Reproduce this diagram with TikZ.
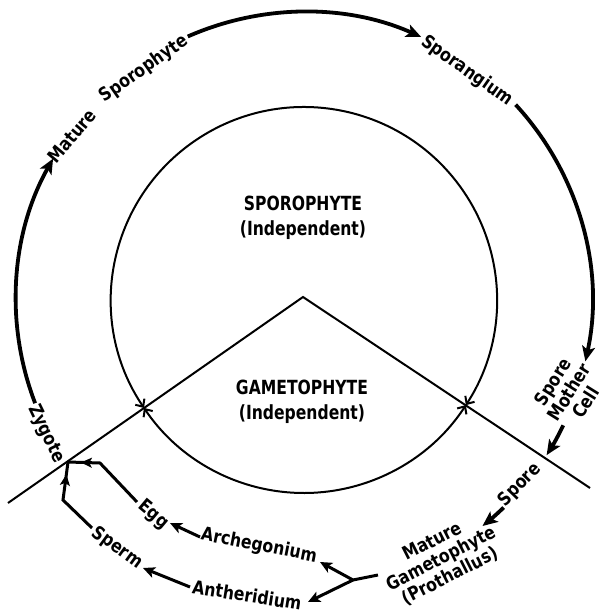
\documentclass[tikz,border=0pt]{standalone}
\usepackage{fontspec}
\newfontfamily\labfont{DejaVu Sans}[FakeStretch=0.85]
\newfontfamily\titfont{DejaVu Sans}[FakeStretch=0.8]
\usetikzlibrary{arrows.meta,decorations.markings}
\tikzset{
  lbl/.style={font=\labfont\bfseries\fontsize{18.5}{19.5}\selectfont, inner sep=0pt, align=center},
  titl/.style={font=\titfont\bfseries\fontsize{19.5}{25}\selectfont, inner sep=0pt, align=center},
  cyc/.style={line width=3.8pt, -{Stealth[length=15pt,width=13pt,inset=3.5pt]}},
  chainline/.style={line width=3pt, line join=miter},
  chainarr/.style={chainline, -{Stealth[length=12pt,width=11pt,inset=3pt]}},
  midarr/.style={postaction={decorate}, decoration={markings, mark=at position #1 with {\arrow{Stealth[length=11pt,width=10pt,inset=2.5pt]}}}},
  vline/.style={line width=2pt},
  innerarc/.style={line width=2pt, {Straight Barb[length=6pt,width=11pt]}-{Straight Barb[length=6pt,width=11pt]}}
}
\begin{document}
\begin{tikzpicture}[x=1pt,y=1pt]
\useasboundingbox (-304,-316) rectangle (300,300);
\coordinate (C) at (0,0);
% inner circle, split at the crossings
\coordinate (xl) at (214:193);
\coordinate (xr) at (-33:193);
\draw[innerarc] (xl) arc[start angle=214, end angle=-33, radius=193pt];
\draw[innerarc] (xl) arc[start angle=214, end angle=327, radius=193pt];
% V line
\coordinate (apex) at (-1,3);
\coordinate (vl) at (-296,-203);
\coordinate (vr) at (286,-188);
\draw[vline] (vl) -- (apex) -- (vr);
% titles
\node[titl] (spt) at (-1,82) {SPOROPHYTE\\(Independent)};
\node[titl] (gmt) at (-2,-102) {GAMETOPHYTE\\(Independent)};
% outer cycle labels
\node[lbl, rotate=50] (matS) at (-232,164) {Mature};
\node[lbl, rotate=35] (sporo) at (-160,231) {Sporophyte};
\node[lbl, rotate=-35] (sporang) at (163,229) {Sporangium};
\node[lbl, rotate=58] (smc) at (265,-92) {Spore\\Mother\\Cell};
\node[lbl, rotate=46] (spore) at (216,-185) {Spore};
\node[lbl, rotate=27] (mg) at (137,-259) {Mature\\Gametophyte\\(Prothallus)};
\node[lbl, rotate=-64] (zyg) at (-258,-134) {Zygote};
% lower chain labels
\node[lbl, rotate=-11] (arch) at (-45,-246) {Archegonium};
\node[lbl, rotate=-40] (egg) at (-151,-215) {Egg};
\node[lbl, rotate=-36] (sperm) at (-187,-248) {Sperm};
\node[lbl, rotate=-9] (anth) at (-57,-295) {Antheridium};
% outer cycle arcs
\coordinate (a1) at (201:288);
\draw[cyc] (a1) arc[start angle=201, end angle=150.6, radius=288pt];
\coordinate (a2) at (113.8:288);
\draw[cyc] (a2) arc[start angle=113.8, end angle=66, radius=288pt];
\coordinate (a3) at (42.7:288);
\draw[cyc] (a3) arc[start angle=42.7, end angle=-12.3, radius=288pt];
\coordinate (a4) at (-25.8:288);
\draw[cyc] (a4) arc[start angle=-25.8, end angle=-32.6, radius=288pt];
\coordinate (a5) at (-46.1:288);
\draw[cyc] (a5) arc[start angle=-46.1, end angle=-51.7, radius=288pt];
% fork from mature gametophyte
\coordinate (mgstem) at (74,-275);
\coordinate (J) at (49,-280);
\coordinate (archtip) at (16,-262);
\coordinate (anthtip) at (4,-302);
\draw[chainline] (mgstem) -- (J);
\draw[chainarr] (J) -- (archtip);
\draw[chainarr] (J) -- (anthtip);
% archegonium -> egg, antheridium -> sperm
\coordinate (archs) at (-104,-237);
\coordinate (eggt) at (-134,-223);
\draw[chainarr] (archs) -- (eggt);
\coordinate (anths) at (-114,-287);
\coordinate (spermt) at (-161,-268);
\draw[chainarr] (anths) -- (spermt);
% egg, sperm -> zygote
\coordinate (zx) at (-236,-162);
\coordinate (eggs) at (-167,-202);
\coordinate (eggb) at (-204,-163);
\draw[chainline, midarr=0.85] (eggs) -- (eggb) -- (zx);
\coordinate (sperms) at (-212,-228);
\coordinate (spermb) at (-241,-200);
\draw[chainline, midarr=0.84] (sperms) -- (spermb) -- (zx);
\end{tikzpicture}
\end{document}
